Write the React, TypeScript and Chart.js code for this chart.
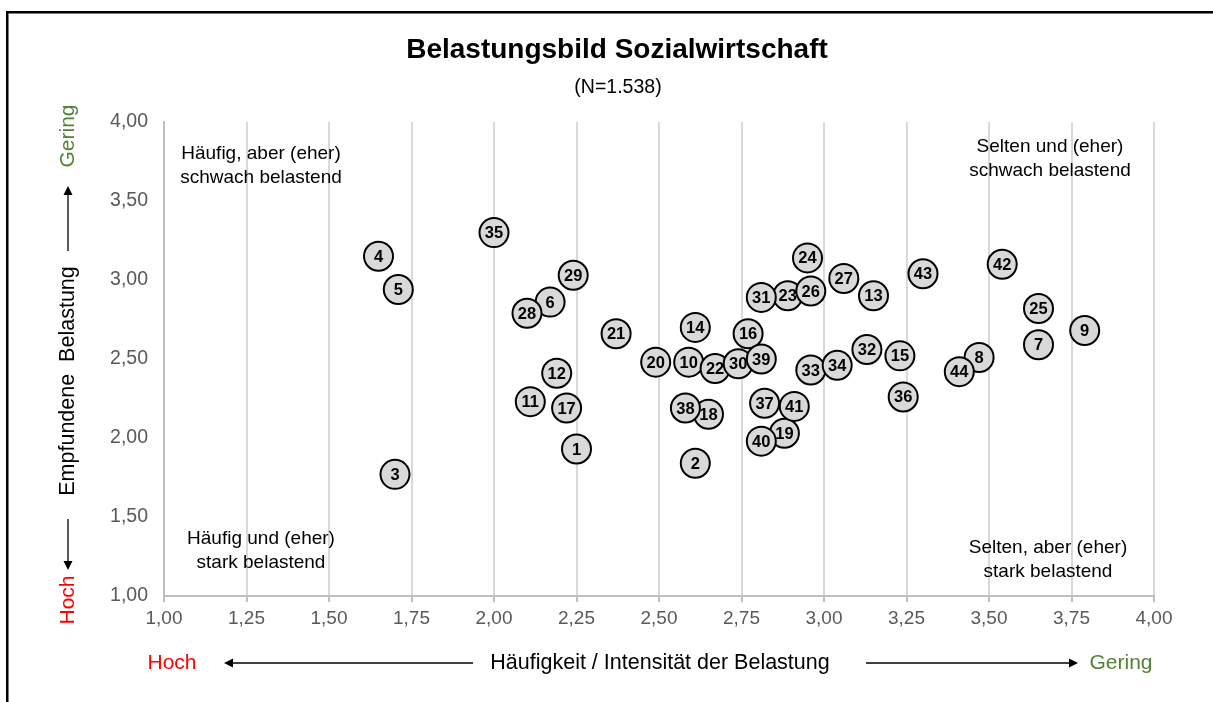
import React, { useEffect, useRef } from "react";
import { Chart, registerables } from "chart.js";

Chart.register(...registerables);

const FONT = "'Liberation Sans', Arial, sans-serif";

const pointIds = [
  1, 2, 3, 4, 5, 6, 7, 8, 9, 10, 11, 12, 13, 14, 15, 16, 17, 18, 19, 20, 21, 22,
  23, 24, 25, 26, 27, 28, 29, 30, 31, 32, 33, 34, 35, 36, 37, 38, 39, 40, 41, 42, 43, 44,
];
// Häufigkeit / Intensität der Belastung
const haeufigkeit = [
  2.25, 2.61, 1.7, 1.65, 1.71, 2.17, 3.65, 3.47, 3.79, 2.59, 2.11, 2.19, 3.15, 2.61, 3.23,
  2.77, 2.22, 2.65, 2.88, 2.49, 2.37, 2.67, 2.89, 2.95, 3.65, 2.96, 3.06, 2.1, 2.24, 2.74,
  2.81, 3.13, 2.96, 3.04, 2.0, 3.24, 2.82, 2.58, 2.81, 2.81, 2.91, 3.54, 3.3, 3.41,
];
// Empfundene Belastung
const belastung = [
  1.93, 1.84, 1.77, 3.15, 2.94, 2.86, 2.59, 2.51, 2.68, 2.48, 2.23, 2.41, 2.9, 2.7, 2.52,
  2.66, 2.19, 2.15, 2.03, 2.48, 2.66, 2.44, 2.9, 3.14, 2.82, 2.93, 3.01, 2.79, 3.03, 2.47,
  2.89, 2.56, 2.43, 2.46, 3.3, 2.26, 2.22, 2.19, 2.5, 1.98, 2.2, 3.1, 3.04, 2.42,
];

const xMin = 1, xMax = 4, xStep = 0.25;
const yMin = 1, yMax = 4, yStep = 0.5;

const titleText = "Belastungsbild Sozialwirtschaft";
const subtitleText = "(N=1.538)";
const quadrantTexts = [
  { lines: ["Häufig, aber (eher)", "schwach belastend"], x: 261, y: 159 },
  { lines: ["Selten und (eher)", "schwach belastend"], x: 1050, y: 152 },
  { lines: ["Häufig und (eher)", "stark belastend"], x: 261, y: 544 },
  { lines: ["Selten, aber (eher)", "stark belastend"], x: 1048, y: 553 },
];
const xAxisTitle = "Häufigkeit / Intensität der Belastung";
const yAxisTitle = "Empfundene  Belastung";
const highText = "Hoch";
const lowText = "Gering";

const GREEN = "#548235";
const RED = "#ff0000";

function fmt(v: number) {
  return v.toFixed(2).replace(".", ",");
}

function arrow(ctx: CanvasRenderingContext2D, x1: number, y1: number, x2: number, y2: number) {
  const ang = Math.atan2(y2 - y1, x2 - x1);
  const hl = 9, hw = 4.5;
  ctx.beginPath();
  ctx.moveTo(x1, y1);
  ctx.lineTo(x2 - Math.cos(ang) * hl * 0.8, y2 - Math.sin(ang) * hl * 0.8);
  ctx.lineWidth = 1.3;
  ctx.strokeStyle = "#000";
  ctx.stroke();
  ctx.beginPath();
  ctx.moveTo(x2, y2);
  ctx.lineTo(x2 - Math.cos(ang) * hl - Math.sin(ang) * hw, y2 - Math.sin(ang) * hl + Math.cos(ang) * hw);
  ctx.lineTo(x2 - Math.cos(ang) * hl + Math.sin(ang) * hw, y2 - Math.sin(ang) * hl - Math.cos(ang) * hw);
  ctx.closePath();
  ctx.fillStyle = "#000";
  ctx.fill();
}

const decorPlugin = {
  id: "decor",
  afterDatasetsDraw(chart: any) {
    const ctx: CanvasRenderingContext2D = chart.ctx;
    const meta = chart.getDatasetMeta(0);
    ctx.save();
    ctx.font = `bold 16.5px ${FONT}`;
    ctx.fillStyle = "#000";
    ctx.textAlign = "center";
    ctx.textBaseline = "middle";
    meta.data.forEach((el: any, i: number) => {
      ctx.fillText(String(pointIds[i]), el.x, el.y + 1);
    });
    ctx.restore();
  },
  afterDraw(chart: any) {
    const ctx: CanvasRenderingContext2D = chart.ctx;
    const W = chart.width, H = chart.height;
    ctx.save();
    // frame
    ctx.fillStyle = "#000";
    ctx.fillRect(6, 11, W - 6, 2.5);
    ctx.fillRect(6, 11, 2.5, H - 11);

    // title
    ctx.textAlign = "center";
    ctx.textBaseline = "alphabetic";
    ctx.fillStyle = "#000";
    ctx.font = `bold 28px ${FONT}`;
    ctx.fillText(titleText, 617, 58);
    ctx.font = `19.5px ${FONT}`;
    ctx.fillText(subtitleText, 618, 93);

    // quadrant texts
    ctx.font = `19px ${FONT}`;
    quadrantTexts.forEach((q) => {
      q.lines.forEach((l, i) => ctx.fillText(l, q.x, q.y + i * 24));
    });

    // x axis title row
    const ry = 663;
    ctx.textBaseline = "middle";
    ctx.font = `21.5px ${FONT}`;
    ctx.fillStyle = "#000";
    ctx.fillText(xAxisTitle, 660, ry);
    ctx.font = `21px ${FONT}`;
    ctx.fillStyle = RED;
    ctx.fillText(highText, 172, ry);
    ctx.fillStyle = GREEN;
    ctx.fillText(lowText, 1121, ry);
    arrow(ctx, 473, ry, 224, ry);
    arrow(ctx, 866, ry, 1078, ry);

    // y axis title column (rotated)
    const cx = 68;
    const rot = (txt: string, cy: number, color: string) => {
      ctx.save();
      ctx.translate(cx, cy);
      ctx.rotate(-Math.PI / 2);
      ctx.fillStyle = color;
      ctx.fillText(txt, 0, 0);
      ctx.restore();
    };
    ctx.font = `21.5px ${FONT}`;
    rot(yAxisTitle, 381, "#000");
    ctx.font = `21px ${FONT}`;
    rot(lowText, 136, GREEN);
    rot(highText, 600, RED);
    arrow(ctx, cx, 251, cx, 186);
    arrow(ctx, cx, 519, cx, 570);
    ctx.restore();
  },
};

export default function App() {
  const ref = useRef<HTMLCanvasElement | null>(null);
  useEffect(() => {
    if (!ref.current) return;
    const points = haeufigkeit.map((x, i) => ({ x, y: belastung[i] }));
    const chart = new Chart(ref.current, {
      type: "scatter",
      data: {
        datasets: [
          {
            data: points,
            pointRadius: 14.5,
            pointHoverRadius: 14.5,
            pointBackgroundColor: "#d9d9d9",
            pointBorderColor: "#000",
            pointBorderWidth: 2,
          },
        ],
      },
      options: {
        responsive: false,
        animation: false,
        events: [],
        layout: { padding: { left: 0, right: 59, top: 122, bottom: 0 } },
        plugins: {
          legend: { display: false },
          tooltip: { enabled: false },
          title: { display: false },
        },
        scales: {
          x: {
            type: "linear",
            min: xMin,
            max: xMax,
            afterFit: (s: any) => {
              s.height = 702 - 596;
            },
            ticks: {
              stepSize: xStep,
              color: "#595959",
              font: { family: FONT, size: 19 },
              padding: 5,
              callback: (v: any) => fmt(Number(v)),
            },
            grid: {
              color: "#d9d9d9",
              lineWidth: 2,
              tickLength: 6,
              tickColor: "#bfbfbf",
              drawOnChartArea: true,
            },
            border: { display: true, color: "#bfbfbf", width: 2 },
          },
          y: {
            type: "linear",
            min: yMin,
            max: yMax,
            afterFit: (s: any) => {
              s.width = 164;
            },
            ticks: {
              stepSize: yStep,
              color: "#595959",
              font: { family: FONT, size: 19.5 },
              padding: 16,
              callback: (v: any) => fmt(Number(v)),
            },
            grid: { display: false, drawTicks: false },
            border: { display: true, color: "#bfbfbf", width: 2 },
          },
        },
      },
      plugins: [decorPlugin],
    });
    return () => chart.destroy();
  }, []);
  return (
    <div style={{ position: "fixed", left: 0, top: 0, width: 1213, height: 702, background: "#fff" }}>
      <canvas ref={ref} width={1213} height={702} style={{ width: 1213, height: 702 }} />
    </div>
  );
}
